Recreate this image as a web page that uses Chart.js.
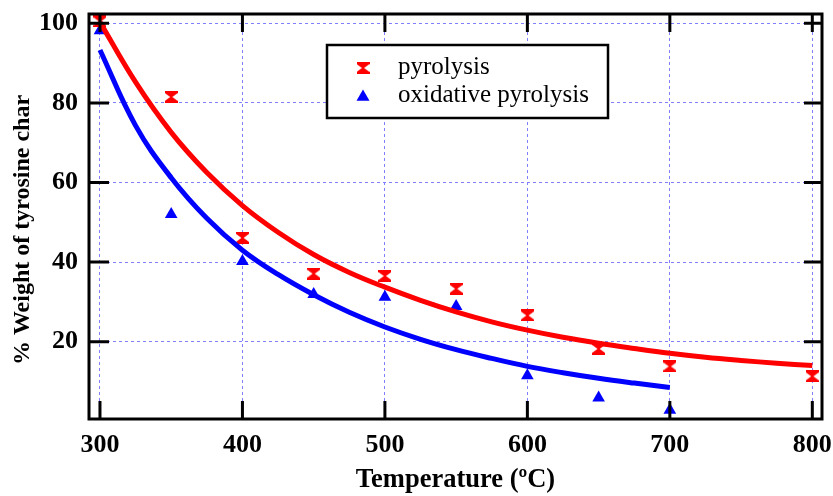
<!DOCTYPE html>
<html>
<head>
<meta charset="utf-8">
<script src="https://cdn.jsdelivr.net/npm/chart.js@4.4.1/dist/chart.umd.min.js"></script>
<style>
  html, body { margin: 0; padding: 0; background: #fff; }
</style>
</head>
<body>
<canvas id="chart" width="833" height="496"></canvas>
<script>
// measured points
const tempsPyro = [300, 350, 400, 450, 500, 550, 600, 650, 700, 800];
const weightPyro = [100.5, 81.5, 46.1, 37.1, 36.5, 33.3, 26.6, 18.2, 13.8, 11.3];
const tempsOxid = [300, 350, 400, 450, 500, 550, 600, 650, 700];
const weightOxid = [98.2, 52.0, 40.2, 31.9, 31.2, 28.9, 11.5, 5.9, 2.8];

// fitted curves (every 25 degrees)
const fitPyroX = [300, 325, 350, 375, 400, 425, 450, 475, 500, 525, 550, 575, 600, 625, 650, 675, 700, 725, 750, 775, 800];
const fitPyroY = [100.3, 85.2, 72.6, 62.5, 54.2, 47.5, 41.9, 37.4, 33.7, 30.4, 27.5, 25.0, 22.9, 21.1, 19.6, 18.3, 17.1, 16.1, 15.3, 14.6, 14.0];
const fitOxidX = [300, 325, 350, 375, 400, 425, 450, 475, 500, 525, 550, 575, 600, 625, 650, 675, 700];
const fitOxidY = [93.3, 74.3, 61.2, 51.0, 43.0, 36.9, 31.8, 27.4, 23.7, 20.6, 18.0, 15.8, 13.8, 12.2, 10.8, 9.6, 8.5];

const xTicks = [300, 400, 500, 600, 700, 800];
const yTicks = [20, 40, 60, 80, 100];
const yTitle = '% Weight of tyrosine char';

const RED = '#ff0000';
const BLUE = '#0000ff';
const GRID = '#8080ff';
const SERIF = '"Liberation Serif", "DejaVu Serif", serif';

const toPoints = (xs, ys) => xs.map((x, i) => ({ x: x, y: ys[i] }));

// hourglass marker
const makeHourglass = () => {
    const c = document.createElement('canvas');
    c.width = 13;
    c.height = 12;
    const g = c.getContext('2d');
    g.fillStyle = RED;
    g.beginPath();
    g.moveTo(0, 0);
    g.lineTo(13, 0);
    g.lineTo(13, 2);
    g.lineTo(7.6, 6);
    g.lineTo(13, 10);
    g.lineTo(13, 12);
    g.lineTo(0, 12);
    g.lineTo(0, 10);
    g.lineTo(5.4, 6);
    g.lineTo(0, 2);
    g.closePath();
    g.fill();
    return c;
};
const hourglass = makeHourglass();

// frame, inward ticks, y title and legend box
const framePlugin = {
    id: 'frame',
    afterDraw(chart) {
        const { ctx, chartArea: a, scales } = chart;
        ctx.save();
        ctx.strokeStyle = '#000';
        ctx.lineWidth = 3;
        ctx.beginPath();
        xTicks.forEach(v => {
            const px = scales.x.getPixelForValue(v);
            ctx.moveTo(px, a.bottom);
            ctx.lineTo(px, a.bottom - 18);
            ctx.moveTo(px, a.top);
            ctx.lineTo(px, a.top + 18);
        });
        yTicks.forEach(v => {
            const py = scales.y.getPixelForValue(v);
            ctx.moveTo(a.left, py);
            ctx.lineTo(a.left + 20, py);
            ctx.moveTo(a.right, py);
            ctx.lineTo(a.right - 18, py);
        });
        ctx.stroke();
        ctx.strokeRect(a.left, a.top, a.right - a.left, a.bottom - a.top);

        // y axis title, sits a little below the middle of the axis
        ctx.save();
        ctx.translate(23, 230);
        ctx.rotate(-Math.PI / 2);
        ctx.fillStyle = '#000';
        ctx.font = 'bold 24px ' + SERIF;
        ctx.textAlign = 'center';
        ctx.textBaseline = 'middle';
        ctx.fillText(yTitle, 0, 0);
        ctx.restore();

        // legend
        const lx = a.left + 238;
        const ly = a.top + 31;
        ctx.fillStyle = '#fff';
        ctx.fillRect(lx, ly, 281, 73);
        ctx.lineWidth = 2.5;
        ctx.strokeRect(lx, ly, 281, 73);

        ctx.drawImage(hourglass, lx + 36 - 6.5, ly + 23 - 6);
        ctx.fillStyle = BLUE;
        ctx.beginPath();
        ctx.moveTo(lx + 36, ly + 52 - 7.5);
        ctx.lineTo(lx + 36 + 6.5, ly + 52 + 3.8);
        ctx.lineTo(lx + 36 - 6.5, ly + 52 + 3.8);
        ctx.closePath();
        ctx.fill();

        ctx.fillStyle = '#000';
        ctx.font = '25px ' + SERIF;
        ctx.textBaseline = 'middle';
        ctx.textAlign = 'left';
        ctx.fillText(chart.data.datasets[2].label, lx + 71, ly + 22);
        ctx.fillText(chart.data.datasets[3].label, lx + 71, ly + 50);
        ctx.restore();
    }
};

new Chart(document.getElementById('chart'), {
    type: 'scatter',
    data: {
        datasets: [
            {
                label: 'pyrolysis fit',
                data: toPoints(fitPyroX, fitPyroY),
                showLine: true,
                borderColor: RED,
                borderWidth: 5,
                pointRadius: 0,
                tension: 0.4
            },
            {
                label: 'oxidative fit',
                data: toPoints(fitOxidX, fitOxidY),
                showLine: true,
                borderColor: BLUE,
                borderWidth: 5,
                pointRadius: 0,
                tension: 0.4
            },
            {
                label: 'pyrolysis',
                data: toPoints(tempsPyro, weightPyro),
                pointStyle: hourglass,
                pointRadius: 7,
                backgroundColor: RED,
                borderColor: RED
            },
            {
                label: 'oxidative pyrolysis',
                data: toPoints(tempsOxid, weightOxid),
                pointStyle: 'triangle',
                pointRadius: 7.3,
                borderWidth: 0,
                backgroundColor: BLUE,
                borderColor: BLUE
            }
        ]
    },
    options: {
        responsive: false,
        animation: false,
        devicePixelRatio: 1,
        layout: { padding: { left: 0, right: 11, top: 14, bottom: 0 } },
        plugins: {
            legend: { display: false },
            tooltip: { enabled: false }
        },
        scales: {
            x: {
                type: 'linear',
                min: 292.3,
                max: 806.8,
                afterBuildTicks: s => { s.ticks = xTicks.map(v => ({ value: v })); },
                afterFit: s => { s.height = 77; s.paddingLeft = 0; s.paddingRight = 0; },
                grid: { color: GRID, lineWidth: 1, drawTicks: false },
                border: { display: false, dash: [3, 3] },
                ticks: {
                    color: '#000',
                    padding: 11,
                    maxRotation: 0,
                    font: { family: SERIF, size: 26, weight: 'bold' }
                },
                title: {
                    display: true,
                    text: 'Temperature (ºC)',
                    color: '#000',
                    padding: { top: 0, bottom: 0 },
                    font: { family: SERIF, size: 26.5, weight: 'bold' }
                }
            },
            y: {
                type: 'linear',
                min: 0.58,
                max: 102.34,
                afterBuildTicks: s => { s.ticks = yTicks.map(v => ({ value: v })); },
                afterFit: s => { s.width = 89; s.paddingTop = 0; s.paddingBottom = 0; },
                grid: { color: GRID, lineWidth: 1, drawTicks: false },
                border: { display: false, dash: [3, 3] },
                ticks: {
                    color: '#000',
                    padding: 11,
                    font: { family: SERIF, size: 26, weight: 'bold' }
                }
            }
        }
    },
    plugins: [framePlugin]
});
</script>
</body>
</html>
